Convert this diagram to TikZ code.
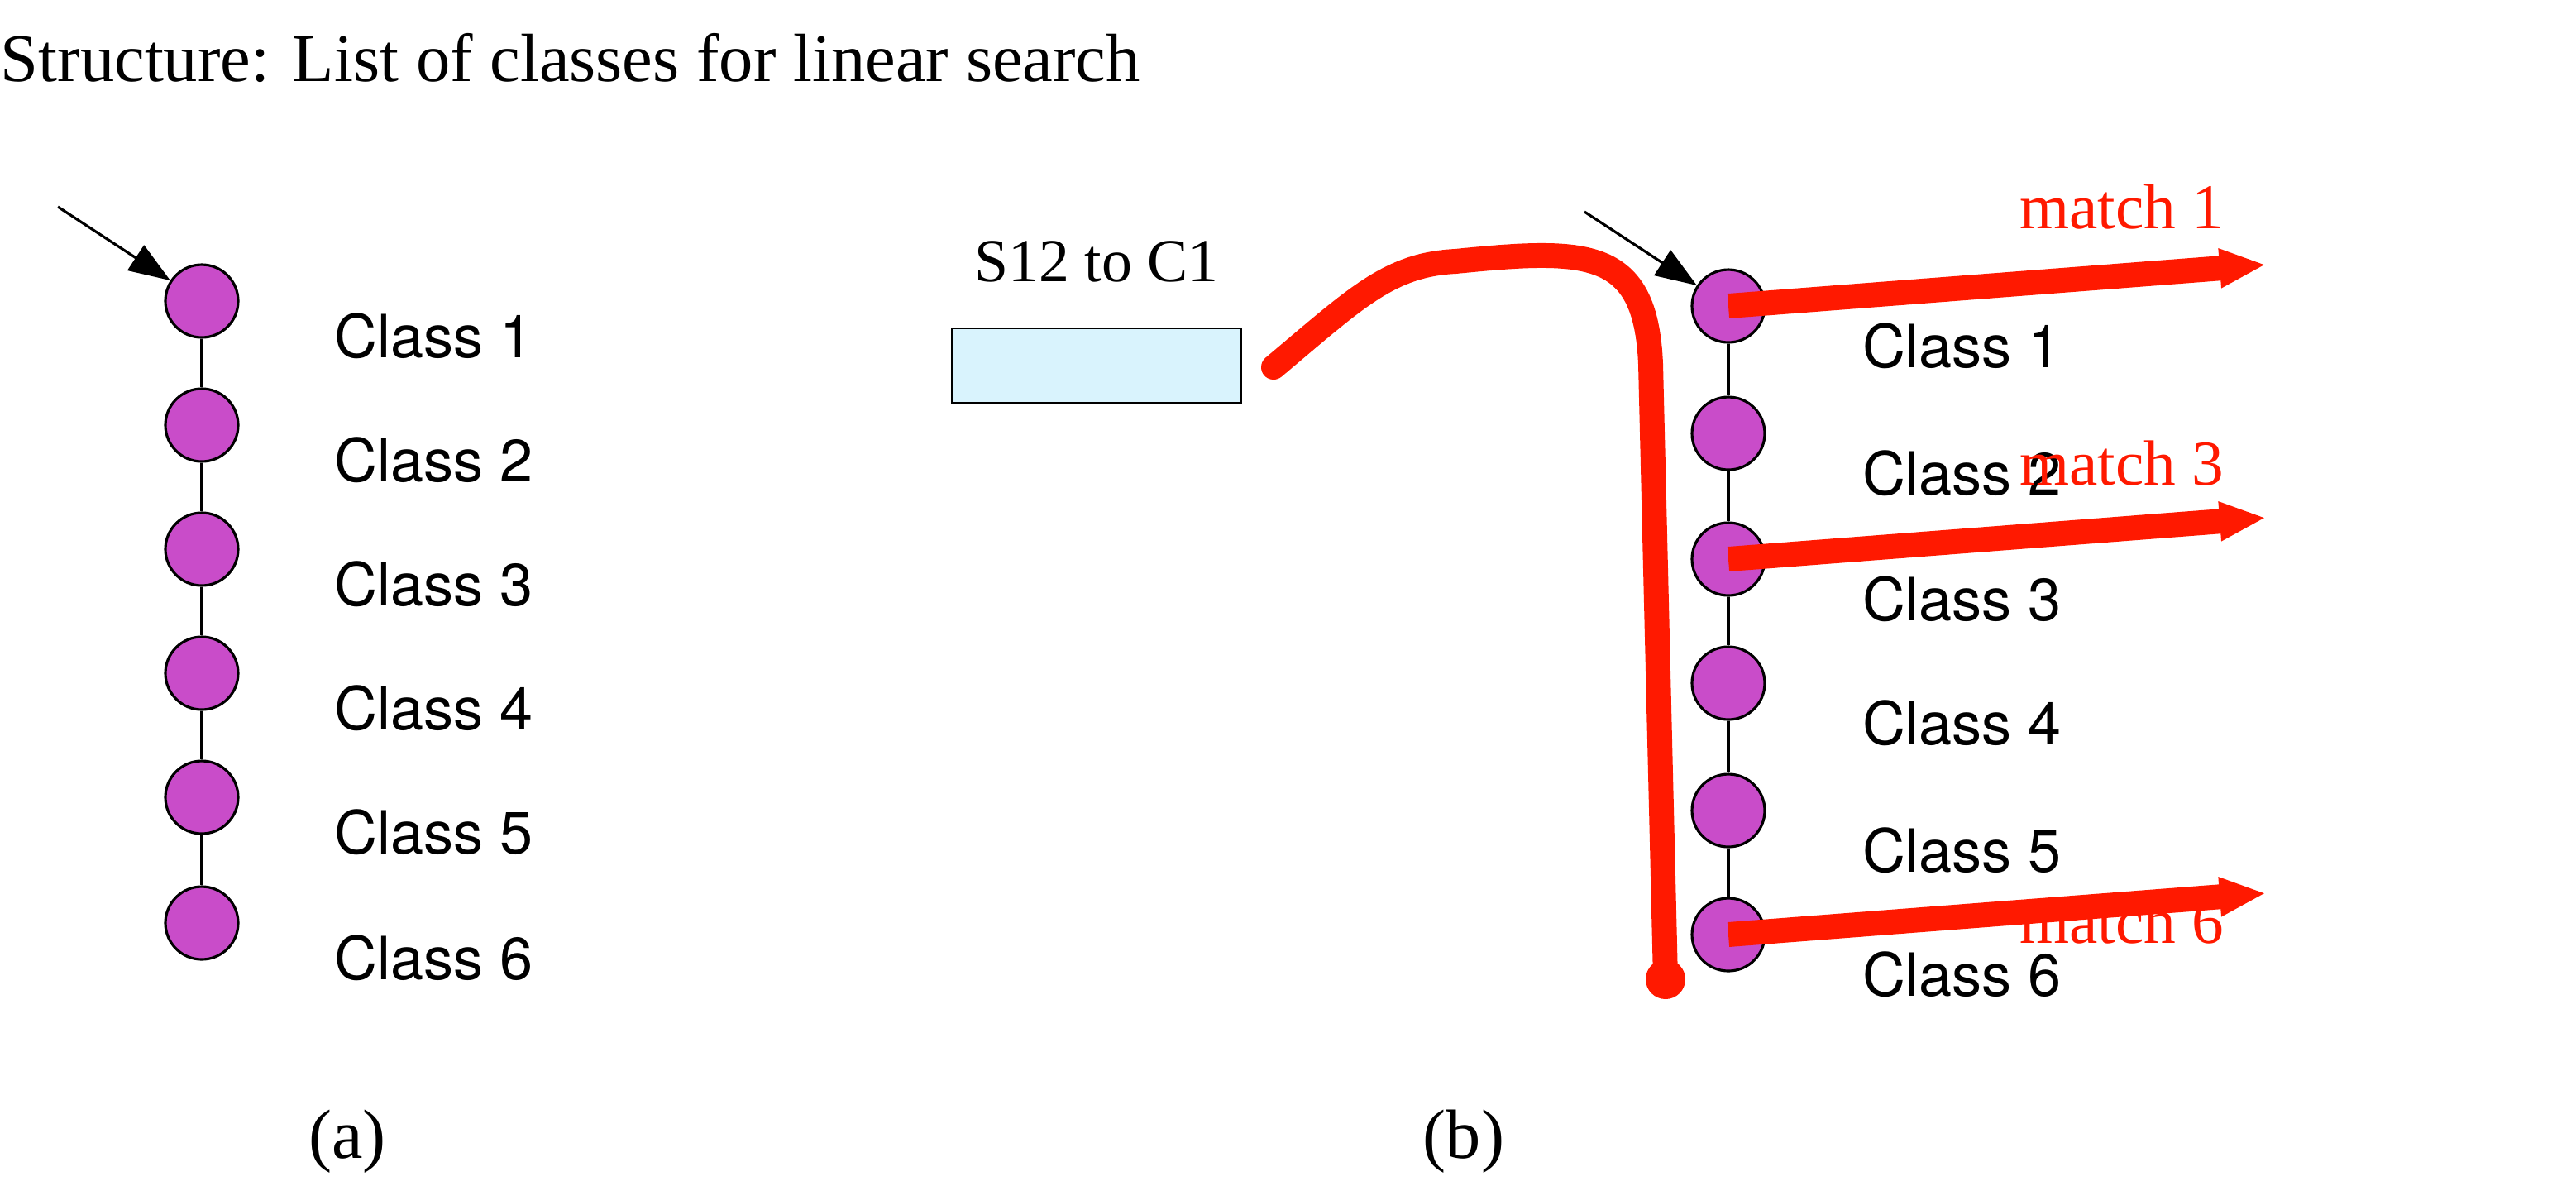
\documentclass[tikz,border=0pt]{standalone}
\usepackage{fontspec}
\setmainfont{Liberation Serif}
\newfontfamily\labelfont{TeX Gyre Heros}
\usetikzlibrary{arrows.meta}
\tikzset{
	cls/.style={circle, draw, line width=0.9pt, fill=violet!60!magenta!70, minimum size=0.88cm, inner sep=0},
	clslabel/.style={anchor=west, font=\labelfont\fontsize{20.5}{24}\selectfont},
	hit/.style={-{Triangle[length=0.56cm,width=0.44cm]}, line width=3mm, color=red!80!orange},
	hitlabel/.style={anchor=west, text=red!80!orange, font=\fontsize{22}{26}\selectfont},
}
\begin{document}
\begin{tikzpicture}[x=0.02cm, y=-0.02cm]
	\useasboundingbox (0,0) rectangle (1557.5,716.5);
	
	%title
	\node[anchor=west, inner sep=0, font=\fontsize{23.5}{28}\selectfont] (title) at (0,35) {Structure: List of classes for linear search};
	
	%list (a)
	\foreach \i/\y in {1/182,2/257,3/332,4/407,5/482,6/558} {
		\node[cls] (a\i) at (122,\y) {};
		\node[clslabel] (la\i) at (196,\y+21) {Class \i};
	}
	\foreach \i [evaluate=\i as \j using int(\i+1)] in {1,...,5}
		\draw[line width=0.9pt] (a\i) -- (a\j);
	\coordinate (ptra) at (35,125);
	\draw[-{Triangle[length=0.5cm,width=0.36cm]}, line width=0.9pt] (ptra) -- (a1);
	\node[font=\fontsize{24}{28}\selectfont] (capa) at (210,690) {(a)};
	
	%search key
	\node[draw, fill=cyan!15, minimum width=3.5cm, minimum height=0.9cm] (key) at (663,221) {};
	\node[font=\fontsize{21}{25}\selectfont] (keylabel) at (663,158) {S12 to C1};
	
	%list (b)
	\foreach \i/\y in {1/185,2/262,3/338,4/413,5/490,6/565} {
		\node[cls] (b\i) at (1045,\y) {};
		\node[clslabel] (lb\i) at (1120,\y+24) {Class \i};
	}
	\foreach \i [evaluate=\i as \j using int(\i+1)] in {1,...,5}
		\draw[line width=0.9pt] (b\i) -- (b\j);
	\coordinate (ptrb) at (958,128);
	\draw[-{Triangle[length=0.5cm,width=0.36cm]}, line width=0.9pt] (ptrb) -- (b1);
	\node[font=\fontsize{24}{28}\selectfont] (capb) at (885,690) {(b)};
	
	%search path
	\coordinate (scan) at (1007,592);
	\draw[line width=3mm, color=red!80!orange, line cap=round] (770,222)
		.. controls (820,180) and (840,160) .. (880,158)
		.. controls (960,150) and (995,150) .. (998,220) -- (scan);
	\fill[red!80!orange] (scan) circle (0.24cm);
	
	%matches
	\foreach \i/\y in {1/160,3/313,6/540} {
		\coordinate (m\i) at (1370,\y);
		\draw[hit] (b\i.center) -- (m\i);
	}
	\node[hitlabel] (h1) at (1215,125) {match 1};
	\node[hitlabel] (h3) at (1215,280) {match 3};
	\node[hitlabel] (h6) at (1215,557) {match 6};
\end{tikzpicture}
\end{document}
